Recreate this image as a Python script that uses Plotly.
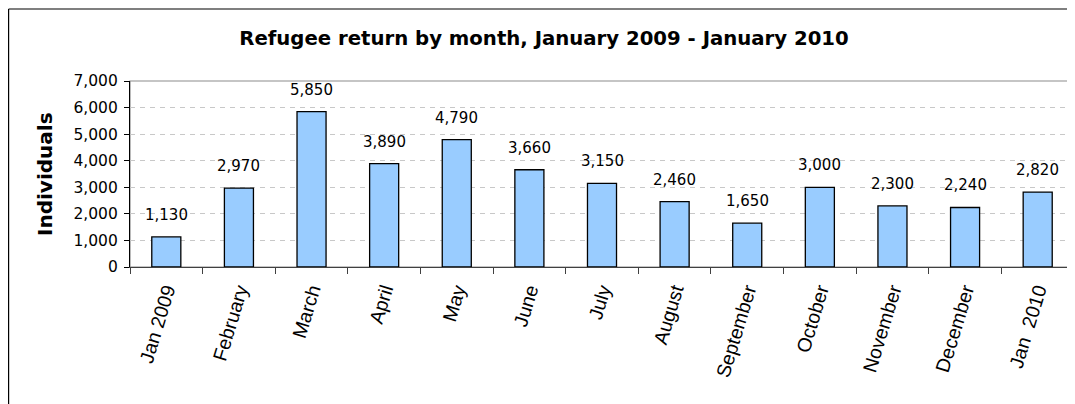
import plotly.graph_objects as go

months = ["Jan 2009", "February", "March", "April", "May", "June", "July",
          "August", "September", "October", "November", "December", "Jan  2010"]
returns = [1130, 2970, 5850, 3890, 4790, 3660, 3150, 2460, 1650, 3000, 2300, 2240, 2820]
y_ticks = [0, 1000, 2000, 3000, 4000, 5000, 6000, 7000]
y_tick_labels = ["0", "1,000", "2,000", "3,000", "4,000", "5,000", "6,000", "7,000"]

FONT = "DejaVu Sans, Liberation Sans, Arial, sans-serif"
XFONT = "Liberation Sans, Arial, sans-serif"

# page body has an 8px default margin, figure is sized to fill the rest of the window
W, H = 1067, 396
L, T, R, B = 122, 73, 1, 137
PW, PH = W - L - R, H - T - B

fig = go.Figure()
fig.add_trace(go.Bar(
    x=months, y=returns, width=0.4,
    marker=dict(color="#99CCFF", line=dict(color="#000000", width=1.3)),
    hoverinfo="x+y",
))

annotations = []
for m, v in zip(months, returns):
    annotations.append(dict(
        x=m, y=v, xref="x", yref="y", text=f"{v:,}", showarrow=False,
        yanchor="bottom", yshift=11, font=dict(family=FONT, size=15, color="#000000"),
    ))
annotations.append(dict(
    x=(37 - L) / PW, y=0.5, xref="paper", yref="paper", text="<b>Individuals</b>",
    showarrow=False, textangle=-90, xanchor="center", yanchor="middle",
    font=dict(family=FONT, size=20, color="#000000"),
))

bx = (0.6 - L) / PW
by = (T + PH - 1) / PH
shapes = [
    dict(type="rect", xref="paper", yref="paper", x0=0, x1=1, y0=0, y1=1,
         line=dict(color="#8C8C8C", width=1.2), layer="below"),
    dict(type="line", xref="paper", yref="paper", x0=bx, x1=bx, y0=-0.9, y1=by,
         line=dict(color="#000000", width=1.2)),
    dict(type="line", xref="paper", yref="paper", x0=bx, x1=1.02, y0=by, y1=by,
         line=dict(color="#000000", width=1.2)),
]

fig.update_layout(
    template="none",
    width=W, height=H,
    margin=dict(l=L, r=R, t=T, b=B, autoexpand=False),
    paper_bgcolor="white", plot_bgcolor="white",
    showlegend=False,
    title=dict(text="<b>Refugee return by month, January 2009 - January 2010</b>",
               x=536 / W, xref="container", xanchor="center", y=1 - 30 / H, yref="container",
               yanchor="middle", font=dict(family=FONT, size=19.7, color="#000000")),
    annotations=annotations,
    shapes=shapes,
    xaxis=dict(
        type="category", showline=True, linecolor="#404040", linewidth=1.3,
        ticks="outside", ticklen=6, tickcolor="#404040", tickwidth=1.2,
        tickson="boundaries", tickangle=-73, showgrid=False, automargin=False,
        ticklabelstandoff=3,
        tickfont=dict(family=XFONT, size=19.5, color="#000000"),
    ),
    yaxis=dict(
        range=[0, 7000], tickvals=y_ticks, ticktext=y_tick_labels,
        showline=True, linecolor="#000000", linewidth=1.3,
        ticks="outside", ticklen=5, tickcolor="#000000", tickwidth=1.2,
        showgrid=True, gridcolor="#C8C8C8", gridwidth=1, griddash="5px,5px",
        zeroline=False, automargin=False, ticklabelstandoff=3,
        tickfont=dict(family=FONT, size=15.5, color="#000000"),
    ),
)

fig.write_html("out.html")
